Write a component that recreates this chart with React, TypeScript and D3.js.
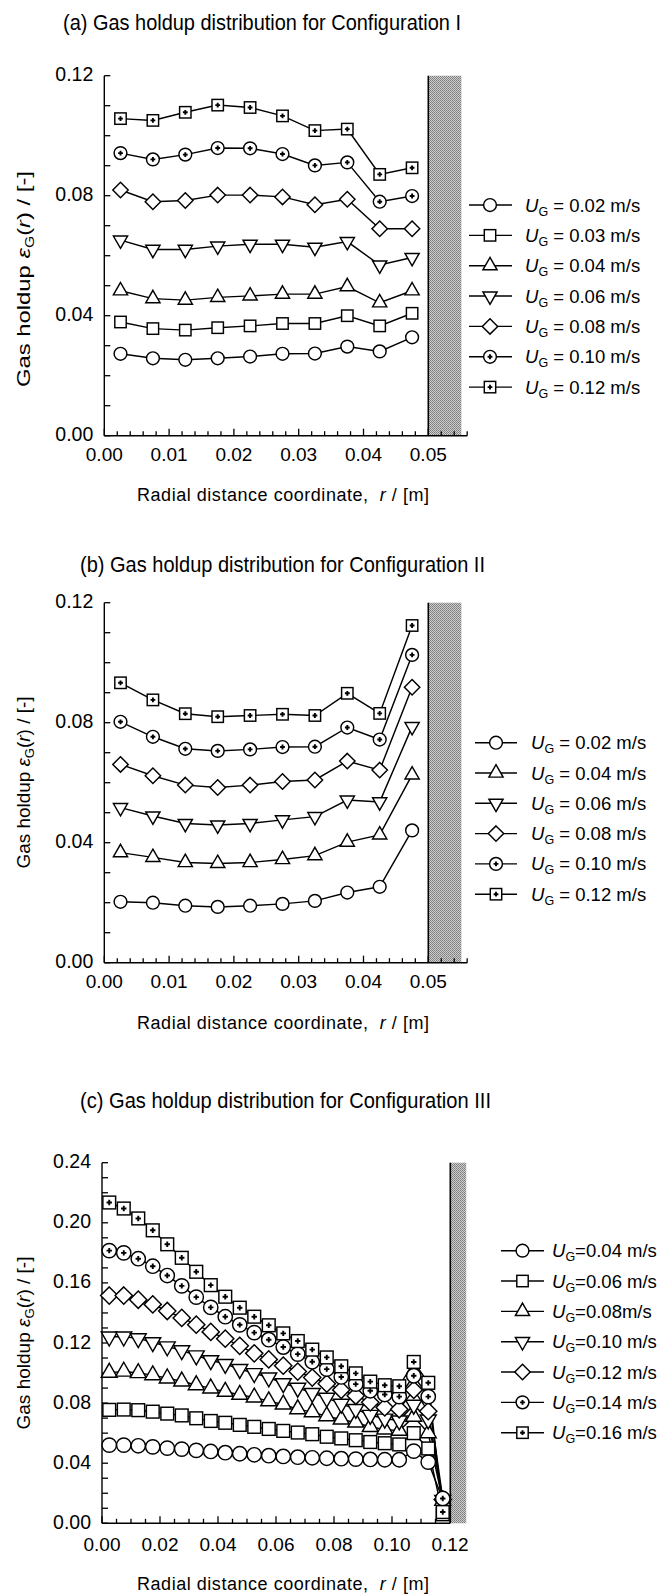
import React from 'react';
import * as d3 from 'd3';

const FONT = '"Liberation Sans", Arial, Helvetica, sans-serif';

// ---------- Panel (a): Configuration I ----------
const radialA = [0.0025, 0.0075, 0.0125, 0.0175, 0.0225, 0.0275, 0.0325, 0.0375, 0.0425, 0.0475];
const ugLabelsA = ['0.02', '0.03', '0.04', '0.06', '0.08', '0.10', '0.12'];
const shapesA = ['circle', 'square', 'triUp', 'triDown', 'diamond', 'circleDot', 'squarePlus'];
const holdupA_002 = [0.0273, 0.0258, 0.0253, 0.0258, 0.0264, 0.0273, 0.0274, 0.0297, 0.0281, 0.0328];
const holdupA_003 = [0.0379, 0.0357, 0.0352, 0.0360, 0.0366, 0.0374, 0.0374, 0.0400, 0.0366, 0.0408];
const holdupA_004 = [0.0483, 0.0457, 0.0452, 0.0461, 0.0466, 0.0472, 0.0472, 0.0497, 0.0443, 0.0483];
const holdupA_006 = [0.0652, 0.0621, 0.0621, 0.0632, 0.0638, 0.0638, 0.0628, 0.0647, 0.0569, 0.0594];
const holdupA_008 = [0.0819, 0.0780, 0.0784, 0.0802, 0.0802, 0.0796, 0.0770, 0.0788, 0.0690, 0.0690];
const holdupA_010 = [0.0942, 0.0921, 0.0937, 0.0959, 0.0958, 0.0939, 0.0901, 0.0911, 0.0780, 0.0799];
const holdupA_012 = [0.1057, 0.1051, 0.1078, 0.1102, 0.1094, 0.1066, 0.1017, 0.1022, 0.0871, 0.0893];

// ---------- Panel (b): Configuration II ----------
const radialB = [0.0025, 0.0075, 0.0125, 0.0175, 0.0225, 0.0275, 0.0325, 0.0375, 0.0425, 0.0475];
const ugLabelsB = ['0.02', '0.04', '0.06', '0.08', '0.10', '0.12'];
const shapesB = ['circle', 'triUp', 'triDown', 'diamond', 'circleDot', 'squarePlus'];
const holdupB_002 = [0.0203, 0.0200, 0.0190, 0.0186, 0.0190, 0.0196, 0.0206, 0.0234, 0.0253, 0.0441];
const holdupB_004 = [0.0367, 0.0351, 0.0334, 0.0331, 0.0334, 0.0344, 0.0357, 0.0402, 0.0426, 0.0626];
const holdupB_006 = [0.0517, 0.0489, 0.0464, 0.0459, 0.0464, 0.0476, 0.0487, 0.0542, 0.0536, 0.0787];
const holdupB_008 = [0.0661, 0.0623, 0.0592, 0.0584, 0.0592, 0.0604, 0.0609, 0.0672, 0.0642, 0.0918];
const holdupB_010 = [0.0803, 0.0753, 0.0713, 0.0706, 0.0711, 0.0719, 0.0720, 0.0784, 0.0744, 0.1026];
const holdupB_012 = [0.0933, 0.0876, 0.0830, 0.0820, 0.0824, 0.0828, 0.0824, 0.0898, 0.0831, 0.1124];

// ---------- Panel (c): Configuration III ----------
const radialC = [0.0025, 0.0075, 0.0125, 0.0175, 0.0225, 0.0275, 0.0325, 0.0375, 0.0425, 0.0475,
  0.0525, 0.0575, 0.0625, 0.0675, 0.0725, 0.0775, 0.0825, 0.0875, 0.0925, 0.0975,
  0.1025, 0.1075, 0.1125, 0.1175];
const ugLabelsC = ['0.04', '0.06', '0.08', '0.10', '0.12', '0.14', '0.16'];
const shapesC = ['circle', 'square', 'triUp', 'triDown', 'diamond', 'circleDot', 'squarePlus'];
const holdupC_004 = [0.0520, 0.0520, 0.0516, 0.0509, 0.0500, 0.0494, 0.0485, 0.0478, 0.0470, 0.0463, 0.0456, 0.0450, 0.0445, 0.0440, 0.0436, 0.0433, 0.0430, 0.0427, 0.0425, 0.0423, 0.0423, 0.0480, 0.0407, 0.0160];
const holdupC_006 = [0.0755, 0.0757, 0.0753, 0.0743, 0.0730, 0.0718, 0.0699, 0.0681, 0.0669, 0.0655, 0.0642, 0.0628, 0.0615, 0.0604, 0.0593, 0.0576, 0.0565, 0.0553, 0.0541, 0.0533, 0.0525, 0.0600, 0.0498, 0.0060];
const holdupC_008 = [0.1003, 0.1010, 0.1000, 0.0986, 0.0965, 0.0945, 0.0920, 0.0898, 0.0876, 0.0856, 0.0838, 0.0813, 0.0791, 0.0760, 0.0740, 0.0713, 0.0691, 0.0671, 0.0641, 0.0625, 0.0616, 0.0710, 0.0600, 0.0150];
const holdupC_010 = [0.1242, 0.1242, 0.1231, 0.1205, 0.1177, 0.1151, 0.1117, 0.1085, 0.1060, 0.1026, 0.0999, 0.0970, 0.0932, 0.0901, 0.0867, 0.0835, 0.0795, 0.0760, 0.0721, 0.0696, 0.0684, 0.0788, 0.0690, 0.0155];
const holdupC_012 = [0.1516, 0.1516, 0.1488, 0.1457, 0.1413, 0.1367, 0.1322, 0.1274, 0.1229, 0.1181, 0.1131, 0.1091, 0.1049, 0.1010, 0.0970, 0.0929, 0.0888, 0.0849, 0.0805, 0.0771, 0.0759, 0.0888, 0.0746, 0.0158];
const holdupC_014 = [0.1815, 0.1800, 0.1761, 0.1711, 0.1649, 0.1580, 0.1505, 0.1437, 0.1375, 0.1321, 0.1269, 0.1222, 0.1173, 0.1126, 0.1075, 0.1026, 0.0974, 0.0926, 0.0882, 0.0857, 0.0843, 0.0982, 0.0843, 0.0165];
const holdupC_016 = [0.2135, 0.2095, 0.2029, 0.1950, 0.1857, 0.1767, 0.1674, 0.1585, 0.1508, 0.1435, 0.1375, 0.1318, 0.1264, 0.1213, 0.1156, 0.1104, 0.1045, 0.0998, 0.0943, 0.0919, 0.0912, 0.1074, 0.0935, 0.0075];

type Series = { ug: string; shape: string; radial: number[]; values: number[] };

const mk = (labels: string[], shapes: string[], radial: number[], vals: number[][]): Series[] =>
  labels.map((ug, i) => ({ ug, shape: shapes[i], radial, values: vals[i] }));

const seriesA = mk(ugLabelsA, shapesA, radialA, [holdupA_002, holdupA_003, holdupA_004, holdupA_006, holdupA_008, holdupA_010, holdupA_012]);
const seriesB = mk(ugLabelsB, shapesB, radialB, [holdupB_002, holdupB_004, holdupB_006, holdupB_008, holdupB_010, holdupB_012]);
const seriesC = mk(ugLabelsC, shapesC, radialC, [holdupC_004, holdupC_006, holdupC_008, holdupC_010, holdupC_012, holdupC_014, holdupC_016]);

// ---------- layout ----------
const panels = [
  {
    id: 'a', title: '(a) Gas holdup distribution for Configuration I', titleX: 63, titleY: 30, titleLen: 398,
    series: seriesA, xDom: [0, 0.05], xPx: [104.3, 428.3], xEnd: 0.056, xStep: 0.002, xMajor: 0.01, xLabelMax: 0.05,
    yDom: [0, 0.12], yPx: [435.7, 75.7], yLabelStep: 0.04, wall: [0.05, 0.0551],
    legend: { x1: 469, x2: 512, mx: 490, tx: 525, y0: 205, dy: 30.35, compact: false },
    yLabel: { cy: 279, len: 216, fs: 19 }, xLabelY: 501, tickLabelY: 461, ms: 1,
  },
  {
    id: 'b', title: '(b) Gas holdup distribution for Configuration II', titleX: 80, titleY: 572, titleLen: 405,
    series: seriesB, xDom: [0, 0.05], xPx: [104.3, 428.3], xEnd: 0.056, xStep: 0.002, xMajor: 0.01, xLabelMax: 0.05,
    yDom: [0, 0.12], yPx: [962.7, 602.7], yLabelStep: 0.04, wall: [0.05, 0.0551],
    legend: { x1: 475, x2: 517, mx: 496, tx: 531, y0: 742.7, dy: 30.3, compact: false },
    yLabel: { cy: 782.5, len: 172, fs: 18 }, xLabelY: 1028.5, tickLabelY: 988, ms: 1,
  },
  {
    id: 'c', title: '(c) Gas holdup distribution for Configuration III', titleX: 80, titleY: 1108, titleLen: 411,
    series: seriesC, xDom: [0, 0.12], xPx: [102, 450], xEnd: 0.12, xStep: 0.005, xMajor: 0.02, xLabelMax: 0.12,
    yDom: [0, 0.24], yPx: [1523.3, 1162.7], yLabelStep: 0.04, wall: [0.1201, 0.1256],
    legend: { x1: 501, x2: 544, mx: 522.5, tx: 552, y0: 1250.7, dy: 30.33, compact: true },
    yLabel: { cy: 1343, len: 173, fs: 18 }, xLabelY: 1590, tickLabelY: 1551, ms: 1.12,
  },
];

function Marker({ shape, x, y, s }: { shape: string; x: number; y: number; s: number }) {
  const st = { fill: 'white', stroke: 'black', strokeWidth: 1.45 };
  const r = 6.4 * s;
  const h = 5.7 * s;
  const plus = (
    <path d={`M${-2.4 * s},0H${2.4 * s}M0,${-2.4 * s}V${2.4 * s}`} stroke="black" strokeWidth={1.9} fill="none" />
  );
  let body: React.ReactNode = null;
  switch (shape) {
    case 'circle':
      body = <circle r={r} {...st} />;
      break;
    case 'square':
      body = <rect x={-h} y={-h} width={2 * h} height={2 * h} {...st} />;
      break;
    case 'triUp':
      body = <path d={`M0,${-8.3 * s}L${7.1 * s},${4.1 * s}L${-7.1 * s},${4.1 * s}Z`} {...st} />;
      break;
    case 'triDown':
      body = <path d={`M0,${8.3 * s}L${7.1 * s},${-4.1 * s}L${-7.1 * s},${-4.1 * s}Z`} {...st} />;
      break;
    case 'diamond':
      body = <path d={`M0,${-7.7 * s}L${7.7 * s},0L0,${7.7 * s}L${-7.7 * s},0Z`} {...st} />;
      break;
    case 'circleDot':
      body = (<g><circle r={r} {...st} />{plus}</g>);
      break;
    case 'squarePlus':
      body = (<g><rect x={-h} y={-h} width={2 * h} height={2 * h} {...st} />{plus}</g>);
      break;
  }
  return <g transform={`translate(${x},${y})`}>{body}</g>;
}

function Panel({ p }: { p: typeof panels[number] }) {
  const x = d3.scaleLinear().domain(p.xDom).range(p.xPx);
  const y = d3.scaleLinear().domain(p.yDom).range(p.yPx);
  const y0 = y(0);
  const yTop = y(p.yDom[1]);
  const xEndPx = x(p.xEnd);
  const fmt = d3.format('.2f');
  const eps = 1e-9;
  const xTicks = d3.range(0, p.xEnd + eps, p.xStep);
  const yTicks = d3.range(0, p.yDom[1] + eps, 0.01);
  const xLabels = d3.range(0, p.xLabelMax + eps, p.xMajor);
  const yLabels = d3.range(0, p.yDom[1] + eps, p.yLabelStep);
  const isMajor = (v: number, step: number) => Math.abs(v / step - Math.round(v / step)) < 1e-6;
  const line = d3.line<[number, number]>().x(d => x(d[0])).y(d => y(d[1]));
  const wx0 = x(p.wall[0]);
  const wx1 = x(p.wall[1]);
  const L = p.legend;

  return (
    <g>
      <text x={p.titleX} y={p.titleY} fontSize={21.5} fontFamily={FONT}
        textLength={p.titleLen} lengthAdjust="spacingAndGlyphs">{p.title}</text>

      {/* wall */}
      <rect x={wx0} y={yTop} width={wx1 - wx0} height={y0 - yTop} fill="url(#wallPat)" />
      <line x1={wx0} x2={wx0} y1={yTop} y2={y0} stroke="black" strokeWidth={1.6} />

      {/* axes */}
      <line x1={x(0)} x2={x(0)} y1={yTop} y2={y0} stroke="black" strokeWidth={1.4} />
      <line x1={x(0)} x2={xEndPx} y1={y0} y2={y0} stroke="black" strokeWidth={1.4} />
      {yTicks.map((v, i) => (
        <line key={'yt' + i} x1={x(0)} x2={x(0) + 6} y1={y(v)} y2={y(v)} stroke="black" strokeWidth={1.3} />
      ))}
      {xTicks.map((v, i) => (
        <line key={'xt' + i} x1={x(v)} x2={x(v)} y1={y0} y2={y0 - (isMajor(v, p.xMajor) ? 7 : 4.5)} stroke="black" strokeWidth={1.3} />
      ))}
      {yLabels.map((v, i) => (
        <text key={'yl' + i} x={x(0) - 11} y={y(v) + 5.5} textAnchor="end" fontSize={19.5} fontFamily={FONT}>{fmt(v)}</text>
      ))}
      {xLabels.map((v, i) => (
        <text key={'xl' + i} x={x(v)} y={p.tickLabelY} textAnchor="middle" fontSize={19} fontFamily={FONT}>{fmt(v)}</text>
      ))}

      {/* axis titles */}
      <text transform={`translate(30,${p.yLabel.cy}) rotate(-90)`} textAnchor="middle" fontSize={p.yLabel.fs} fontFamily={FONT}
        textLength={p.yLabel.len} lengthAdjust="spacingAndGlyphs" style={{ whiteSpace: 'pre' }}>
        <tspan>Gas holdup </tspan>
        <tspan fontStyle="italic">ε</tspan>
        <tspan fontSize={12.5} dy={4}>G</tspan>
        <tspan dy={-4}>(</tspan>
        <tspan fontStyle="italic">r</tspan>
        <tspan>) / [-]</tspan>
      </text>
      <text x={137} y={p.xLabelY} fontSize={18} fontFamily={FONT} textLength={292} lengthAdjust="spacing" style={{ whiteSpace: 'pre' }}>
        <tspan>Radial distance coordinate,  </tspan>
        <tspan fontStyle="italic">r</tspan>
        <tspan> / [m]</tspan>
      </text>

      {/* series */}
      {p.series.map((s, si) => {
        const pts = s.radial.map((r, i) => [r, s.values[i]] as [number, number]);
        return <path key={'s' + si} d={line(pts) || ''} fill="none" stroke="black" strokeWidth={1.45} />;
      })}
      {p.series.map((s, si) => (
        <g key={'m' + si}>
          {s.radial.map((r, i) => (
            <Marker key={i} shape={s.shape} x={x(r)} y={y(s.values[i])} s={p.ms} />
          ))}
        </g>
      ))}

      {/* legend */}
      {p.series.map((s, si) => {
        const ly = L.y0 + si * L.dy;
        const rest = L.compact ? (s.ug === '0.08' ? '=0.08m/s' : `=${s.ug} m/s`) : ` = ${s.ug} m/s`;
        return (
          <g key={'lg' + si}>
            <line x1={L.x1} x2={L.x2} y1={ly} y2={ly} stroke="black" strokeWidth={1.4} />
            <Marker shape={s.shape} x={L.mx} y={ly} s={1} />
            <text x={L.tx} y={ly + 6.5} fontSize={18.5} fontFamily={FONT} style={{ whiteSpace: 'pre' }}>
              <tspan fontStyle="italic">U</tspan>
              <tspan fontSize={12.5} dy={4}>G</tspan>
              <tspan dy={-4}>{rest}</tspan>
            </text>
          </g>
        );
      })}
    </g>
  );
}

export default function App() {
  return (
    <svg width={665} height={1596} viewBox="0 0 665 1596"
      style={{ position: 'absolute', left: 0, top: 0, display: 'block', background: 'white' }}>
      <defs>
        <pattern id="wallPat" x={0} y={0} width={2} height={2} patternUnits="userSpaceOnUse">
          <rect x={0} y={0} width={2} height={2} fill="#cdcdcd" />
          <rect x={0} y={0} width={1} height={1} fill="#7c7c7c" />
          <rect x={1} y={1} width={1} height={1} fill="#8a8a8a" />
        </pattern>
      </defs>
      <rect x={0} y={0} width={665} height={1596} fill="white" />
      {panels.map(p => <Panel key={p.id} p={p} />)}
    </svg>
  );
}
